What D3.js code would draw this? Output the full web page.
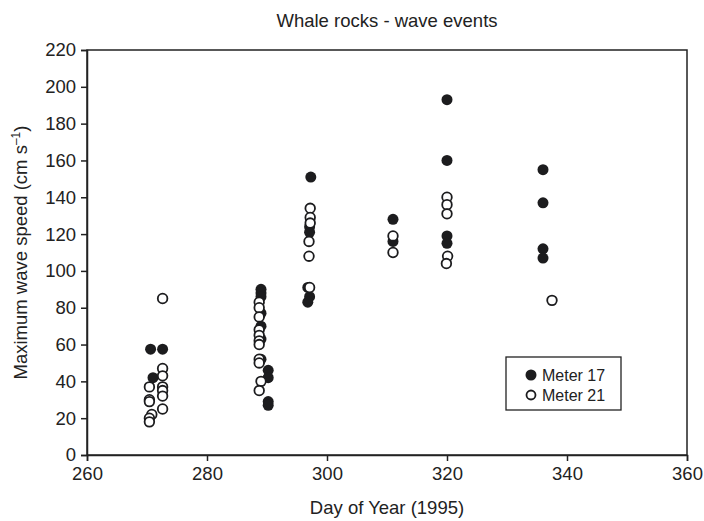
<!DOCTYPE html>
<html>
<head>
<meta charset="utf-8">
<script src="https://cdn.jsdelivr.net/npm/d3@7"></script>
<style>
  body { margin: 0; background: #fff; }
  svg { font-family: "Liberation Sans", Arial, sans-serif; }
</style>
</head>
<body>
<figure id="chart" style="margin:0"></figure>
<script>
// meter 17 (filled) and meter 21 (open): [day, max speed]
const meter17 = [
  [270.6, 57.5], [272.6, 57.5], [271.0, 42],
  [289.0, 90], [289.0, 88], [289.0, 86], [289.0, 77], [289.0, 70], [289.0, 63], [289.0, 52],
  [290.2, 46], [290.2, 42], [290.2, 29], [290.2, 27],
  [297.3, 151], [297.1, 124], [297.1, 121], [296.8, 91], [297.1, 86], [296.8, 83],
  [311.0, 128], [311.0, 116],
  [320.0, 193], [320.0, 160], [320.0, 119], [320.0, 115],
  [336.0, 155], [336.0, 137], [336.0, 112], [336.0, 107]
];
const meter21 = [
  [272.6, 85], [272.6, 47], [272.6, 43], [272.6, 37], [272.6, 35], [272.6, 32], [272.6, 25],
  [270.4, 37], [270.4, 30], [270.4, 29], [270.8, 22], [270.4, 20], [270.4, 18],
  [288.7, 83], [288.7, 80], [288.7, 75], [288.7, 68], [288.7, 65], [288.7, 62], [288.7, 60],
  [288.7, 52], [288.7, 50], [289.0, 40], [288.7, 35],
  [297.2, 134], [297.2, 129], [297.2, 126], [297.0, 116], [297.0, 108], [297.1, 91],
  [311.0, 119], [311.0, 110],
  [320.0, 140], [320.0, 136], [320.0, 131], [320.1, 108], [319.9, 104],
  [337.5, 84]
];
const xTicks = [260, 280, 300, 320, 340, 360];
const yTicks = [0, 20, 40, 60, 80, 100, 120, 140, 160, 180, 200, 220];

const W = 704, H = 521;
const margin = { left: 87, right: 17, top: 50, bottom: 66 };
const width = W - margin.left - margin.right;
const height = H - margin.top - margin.bottom;

const svg = d3.select("figure#chart")
  .append("svg")
  .attr("width", W)
  .attr("height", H)

const g = svg.append("g")
  .attr("transform", "translate(" + margin.left + "," + margin.top + ")")

const x = d3.scaleLinear().domain([260, 360]).range([0, width])
const y = d3.scaleLinear().domain([0, 220]).range([height, 0])

// frame
g.append("rect")
  .attr("width", width)
  .attr("height", height)
  .attr("fill", "none")
  .attr("stroke", "#222")
  .attr("stroke-width", 1.5)

const xAxis = g.append("g")
  .attr("transform", "translate(0," + height + ")")
  .call(d3.axisBottom(x).tickValues(xTicks).tickSize(6).tickPadding(6).tickFormat(d3.format("d")))
const yAxis = g.append("g")
  .call(d3.axisLeft(y).tickValues(yTicks).tickSize(6).tickPadding(5).tickFormat(d3.format("d")))

for (const ax of [xAxis, yAxis]) {
  ax.select(".domain").attr("stroke", "#222").attr("stroke-width", 1.5)
  ax.selectAll(".tick line").attr("stroke", "#222").attr("stroke-width", 1.5)
  ax.selectAll(".tick text").attr("fill", "#222").style("font-size", "18.5px")
}

// titles
svg.append("text")
  .attr("x", margin.left + width / 2)
  .attr("y", 27)
  .attr("text-anchor", "middle")
  .attr("fill", "#222")
  .style("font-size", "18.5px")
  .text("Whale rocks - wave events")

svg.append("text")
  .attr("x", margin.left + width / 2)
  .attr("y", 514)
  .attr("text-anchor", "middle")
  .attr("fill", "#222")
  .style("font-size", "18.5px")
  .text("Day of Year (1995)")

const yt = svg.append("text")
  .attr("transform", "translate(27," + (margin.top + height / 2) + ") rotate(-90)")
  .attr("text-anchor", "middle")
  .attr("fill", "#222")
  .style("font-size", "18.5px")
yt.append("tspan").text("Maximum wave speed (cm s")
yt.append("tspan").attr("dy", -7).style("font-size", "12px").text("–1")
yt.append("tspan").attr("dy", 7).text(")")

// dots
g.append("g").selectAll("circle")
  .data(meter17)
  .join("circle")
  .attr("cx", d => x(d[0]))
  .attr("cy", d => y(d[1]))
  .attr("r", 5.5)
  .attr("fill", "#1c1c1e")

g.append("g").selectAll("circle")
  .data(meter21)
  .join("circle")
  .attr("cx", d => x(d[0]))
  .attr("cy", d => y(d[1]))
  .attr("r", 4.8)
  .attr("fill", "#fff")
  .attr("stroke", "#1c1c1e")
  .attr("stroke-width", 1.8)

// legend
const legend = svg.append("g").attr("transform", "translate(506,357)")
legend.append("rect")
  .attr("width", 115)
  .attr("height", 53)
  .attr("fill", "#fff")
  .attr("stroke", "#222")
  .attr("stroke-width", 1.3)
const items = [["Meter 17", true], ["Meter 21", false]]
items.forEach((it, i) => {
  const row = legend.append("g").attr("transform", "translate(25," + (18 + i * 20) + ")")
  row.append("circle")
    .attr("r", it[1] ? 5.5 : 4.5)
    .attr("fill", it[1] ? "#1c1c1e" : "#fff")
    .attr("stroke", "#1c1c1e")
    .attr("stroke-width", it[1] ? 0 : 1.8)
  row.append("text")
    .attr("x", 11)
    .attr("dy", "0.35em")
    .attr("fill", "#222")
    .style("font-size", "16px")
    .text(it[0])
})
</script>
</body>
</html>
